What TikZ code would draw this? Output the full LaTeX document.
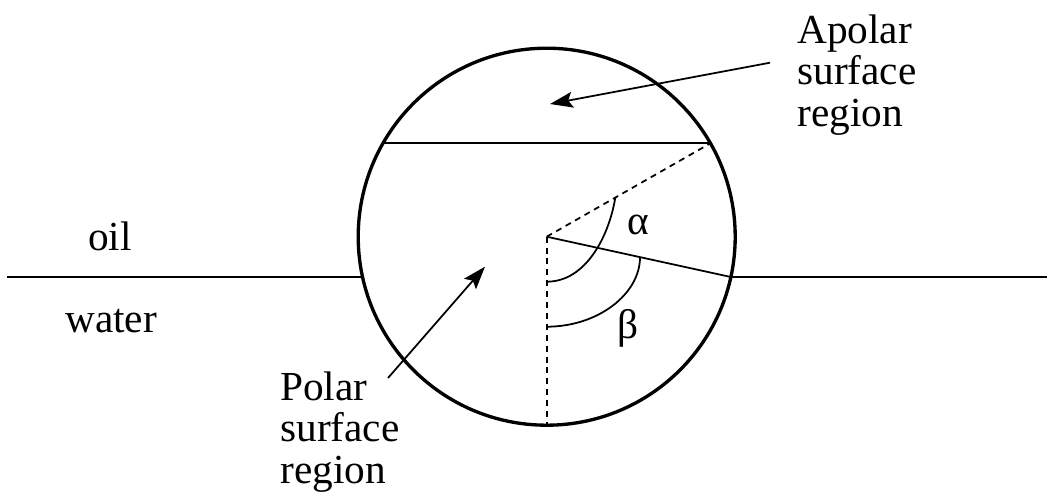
\documentclass[tikz,border=0pt]{standalone}
\usepackage{fontspec}
\setmainfont{Liberation Serif}
\usetikzlibrary{arrows.meta}
\begin{document}
\begin{tikzpicture}[x=0.02cm,y=-0.02cm,line join=round,
 lbl/.style={font=\fontsize{23.5}{23.6}\selectfont,inner sep=0pt,align=left,anchor=base west},
 thinline/.style={line width=1pt},
 dashline/.style={line width=1pt,dash pattern=on 3.4pt off 2.8pt},
 pointer/.style={line width=1pt,-{Stealth[length=13pt,width=9pt,inset=2.5pt]}}]
\useasboundingbox (0,0) rectangle (1053,497);
% particle at the interface
\coordinate (O) at (546.7,236.7);
\coordinate (CL) at (383.0,143.3);
\coordinate (CR) at (710.4,143.3);
\coordinate (WL) at (362.6,277);
\coordinate (WR) at (730.8,277);
\coordinate (B) at (546.7,425.2);
\coordinate (EL) at (7,277);
\coordinate (ER) at (1047,277);
\draw[line width=1.9pt] (O) circle (188.5);
\draw[thinline] (EL) -- (WL);
\draw[thinline] (WR) -- (ER);
\draw[thinline] (CL) -- (CR);
\draw[thinline] (O) -- (WR);
\draw[dashline] (O) -- (CR);
\draw[dashline] (O) -- (B);
% angles
\coordinate (A1) at (546.7,281.7);
\coordinate (A2) at (615.3,197.6);
\coordinate (B1) at (546.7,326.7);
\coordinate (B2) at (640,257.2);
\draw[thinline] (A1) .. controls (586,281.7) and (609,236) .. (A2);
\draw[thinline] (B1) .. controls (598,326.7) and (640,294) .. (B2);
\node[lbl] (alpha) at (627,234) {α};
\node[lbl] (beta) at (617,338) {β};
% labels
\node[lbl] (oil) at (88,250) {oil};
\node[lbl] (water) at (65,332) {water};
\node[lbl] (apolar) at (797,126) {Apolar\\surface\\region};
\node[lbl] (polar) at (280,483) {Polar\\surface\\region};
\coordinate (apolartail) at (770,62.7);
\coordinate (apolartip) at (550,104);
\coordinate (polartail) at (388,378);
\coordinate (polartip) at (485,266.7);
\draw[pointer] (apolartail) -- (apolartip);
\draw[pointer] (polartail) -- (polartip);
\end{tikzpicture}
\end{document}
